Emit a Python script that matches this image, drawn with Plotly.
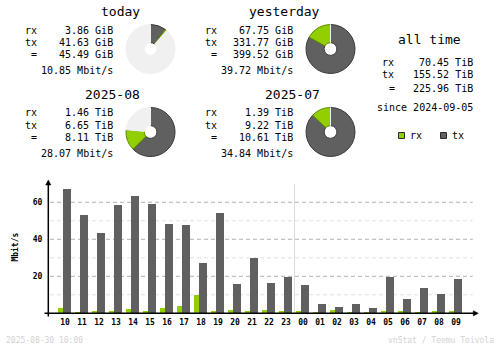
import plotly.graph_objects as go

# ---- hourly traffic (Mbit/s) ----
hours = ["10", "11", "12", "13", "14", "15", "16", "17", "18", "19", "20", "21",
         "22", "23", "00", "01", "02", "03", "04", "05", "06", "07", "08", "09"]
rx_mbit = [2.9, 0.7, 1.2, 1.2, 2.3, 1.2, 2.9, 3.9, 9.9, 1.2, 1.8, 1.2,
           1.8, 1.2, 1.2, 0.7, 1.8, 0.7, 0.7, 1.2, 1.2, 0.7, 1.2, 1.2]
tx_mbit = [67.2, 53.1, 43.4, 58.5, 63.4, 59.1, 48.3, 47.7, 27.2, 54.2, 15.8, 29.9,
           16.4, 19.6, 15.3, 5.0, 3.4, 5.0, 2.9, 19.6, 7.7, 13.7, 10.4, 18.5]
y_ticks = [20, 40, 60]

# ---- summary blocks ----
day_titles = ["today", "yesterday"]
day_rx = [3.86, 67.75]          # GiB
day_tx = [41.63, 331.77]        # GiB
day_total = [45.49, 399.52]     # GiB
day_rate = [10.85, 39.72]       # Mbit/s

month_titles = ["2025-08", "2025-07"]
month_rx = [1.46, 1.39]         # TiB
month_tx = [6.65, 9.22]         # TiB
month_total = [8.11, 10.61]     # TiB
month_rate = [28.07, 34.84]     # Mbit/s

alltime_rx = 70.45
alltime_tx = 155.52
alltime_total = 225.96
since_date = "2024-09-05"
footer_left = "2025-08-30 10:00"
footer_right = "vnStat / Teemu Toivola"

W, H = 500, 348
RX = "#92cf00"
TX = "#606060"
RX_EDGE = "#5f8a00"
TX_EDGE = "#3a3a3a"
EMPTY = "#f0f0f0"
FONT = "DejaVu Sans Mono"


def px(x):
    return x / W


def py(y):
    return 1 - y / H


fig = go.Figure()

# ---- bars ----
step = 17.0
fig.add_trace(go.Bar(x=hours, y=rx_mbit, name="rx", width=5 / step, offset=-7 / step,
                     marker=dict(color=RX, line=dict(width=0)), showlegend=False))
fig.add_trace(go.Bar(x=hours, y=tx_mbit, name="tx", width=8 / step, offset=-2 / step,
                     marker=dict(color=TX, line=dict(width=0)), showlegend=False))

annotations = []
shapes = []


def txt(x, y, s, anchor="left", size=10, color="#000000", bold=False):
    annotations.append(dict(x=px(x), y=py(y), xref="paper", yref="paper", text=s,
                            showarrow=False, xanchor=anchor, yanchor="middle",
                            font=dict(family=FONT, size=size, color=color,
                                      weight="bold" if bold else "normal")))


def pie(cx, cy, tx, rx, full):
    r = 24.5
    rest = max(full - tx - rx, 0)
    fig.add_trace(go.Pie(values=[tx, rx, rest], sort=False, direction="clockwise",
                         hole=0.26, textinfo="none", hoverinfo="skip", showlegend=False,
                         marker=dict(colors=[TX, RX, EMPTY],
                                     line=dict(color=[TX_EDGE, RX_EDGE, EMPTY], width=1)),
                         domain=dict(x=[px(cx - r), px(cx + r)], y=[py(cy + r), py(cy - r)])))


def block(x_off, y_off, title, rx, tx, total, rate, unit, full):
    txt(141.5 + x_off, 11 + y_off, title, anchor="right", size=13)
    txt(23 + x_off, 30 + y_off, "rx")
    txt(23 + x_off, 42 + y_off, "tx")
    txt(29 + x_off, 54.3 + y_off, "=")
    txt(115 + x_off, 30 + y_off, f"{rx:.2f} {unit}", anchor="right")
    txt(115 + x_off, 42 + y_off, f"{tx:.2f} {unit}", anchor="right")
    txt(115 + x_off, 54.3 + y_off, f"{total:.2f} {unit}", anchor="right")
    txt(115 + x_off, 70 + y_off, f"{rate:.2f} Mbit/s", anchor="right")
    pie(150.5 + x_off, 49 + y_off, tx, rx, full)


day_full = max(day_total)
for i in range(2):
    block(180 * i, 0, day_titles[i], day_rx[i], day_tx[i], day_total[i], day_rate[i],
          "GiB", day_full)
month_full = max(month_total)
for i in range(2):
    block(180 * i, 83, month_titles[i], month_rx[i], month_tx[i], month_total[i],
          month_rate[i], "TiB", month_full)

# ---- all time ----
txt(429, 40, "all time", anchor="center", size=13)
txt(380, 62.7, "rx")
txt(380, 74, "tx")
txt(387, 88, "=")
txt(475, 62.7, f"{alltime_rx:.2f} TiB", anchor="right")
txt(475, 74, f"{alltime_tx:.2f} TiB", anchor="right")
txt(475, 88, f"{alltime_total:.2f} TiB", anchor="right")
txt(475, 108, f"since {since_date}", anchor="right")

# legend swatches
for x0, col, lab in [(398.5, RX, "rx"), (440.5, TX, "tx")]:
    shapes.append(dict(type="rect", xref="paper", yref="paper",
                       x0=px(x0), x1=px(x0 + 6), y0=py(138.5), y1=py(132.5),
                       fillcolor=col, line=dict(color="#2a2a2a", width=1)))
    txt(x0 + 9, 135.7, lab)

# footer
txt(4, 340, footer_left, anchor="left", size=8, color="#d2d2d2")
txt(496, 340, footer_right, anchor="right", size=8, color="#d2d2d2")

# ---- chart frame ----
ax_x = 48.3
ax_y = 313.3
ax_top = 181
ax_right = 478.3
x_lo = (ax_x - 65) / step
x_hi = (ax_right - 65) / step
y_hi = 71.5

for v in range(10, 70, 10):
    major = v in y_ticks
    shapes.append(dict(type="line", xref="x domain", yref="y",
                       x0=(50 - ax_x) / (ax_right - ax_x), x1=(472.7 - ax_x) / (ax_right - ax_x),
                       y0=v, y1=v, layer="below",
                       line=dict(color="#b0b0b0" if major else "#e0e0e0", width=1,
                                 dash="4px,3px")))

# midnight divider
mid = hours.index("00") - 0.5
shapes.append(dict(type="line", xref="x", yref="y domain", x0=mid, x1=mid, y0=0, y1=0.975,
                   layer="below", line=dict(color="#dcdcdc", width=1)))

# axes with arrow heads
shapes.append(dict(type="line", xref="paper", yref="paper", x0=px(ax_x), x1=px(ax_x),
                   y0=py(316.5), y1=py(ax_top + 2), line=dict(color="#000", width=1.5)))
shapes.append(dict(type="line", xref="paper", yref="paper", x0=px(44.5), x1=px(ax_right - 2),
                   y0=py(ax_y), y1=py(ax_y), line=dict(color="#000", width=1.5)))
shapes.append(dict(type="path", xref="paper", yref="paper", fillcolor="#000",
                   line=dict(color="#000", width=0.5),
                   path=f"M {px(ax_x)} {py(ax_top - 1)} L {px(ax_x - 2.6)} {py(ax_top + 4)} "
                        f"L {px(ax_x + 2.6)} {py(ax_top + 4)} Z"))
shapes.append(dict(type="path", xref="paper", yref="paper", fillcolor="#000",
                   line=dict(color="#000", width=0.5),
                   path=f"M {px(ax_right)} {py(ax_y)} L {px(ax_right - 5)} {py(ax_y - 2.6)} "
                        f"L {px(ax_right - 5)} {py(ax_y + 2.6)} Z"))

fig.update_layout(
    width=W, height=H, margin=dict(l=0, r=0, t=0, b=0),
    paper_bgcolor="#ffffff", plot_bgcolor="rgba(0,0,0,0)",
    barmode="overlay", bargap=0,
    font=dict(family=FONT, color="#000000"),
    annotations=annotations, shapes=shapes,
    xaxis=dict(domain=[px(ax_x), px(ax_right)], range=[x_lo, x_hi], type="category",
               categoryorder="array", categoryarray=hours,
               showgrid=False, showline=False, zeroline=False, ticks="",
               ticklabelstandoff=3,
               tickfont=dict(family=FONT, size=8, color="#000", weight="bold")),
    yaxis=dict(domain=[py(ax_y), py(ax_top)], range=[0, y_hi],
               tickvals=y_ticks, showgrid=False, showline=False, zeroline=False, ticks="",
               ticklabelstandoff=5,
               tickfont=dict(family=FONT, size=8, color="#000", weight="bold"),
               title=dict(text="Mbit/s", standoff=12,
                          font=dict(family=FONT, size=8, color="#000", weight="bold"))),
)

fig.write_html("out.html")
